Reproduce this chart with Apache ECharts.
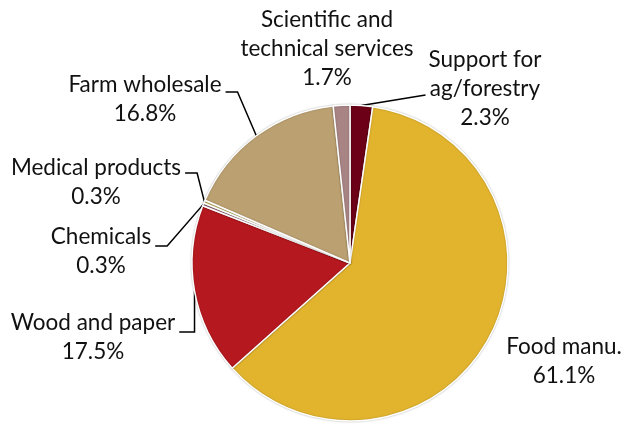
<!DOCTYPE html>
<html>
<head>
<meta charset="utf-8">
<script src="https://cdn.jsdelivr.net/npm/echarts@6/dist/echarts.min.js"></script>
<style>
  html, body { margin: 0; padding: 0; background: #fff; }
  #chart { width: 624px; height: 425px; }
</style>
</head>
<body>
<div id="chart"></div>
<script>
// Shares of the sector, clockwise from 12 o'clock
const sectors = ['Support for\nag/forestry', 'Food manu.', 'Wood and paper', 'Chemicals',
                 'Medical products', 'Farm wholesale', 'Scientific and\ntechnical services'];
const shares = [2.3, 61.1, 17.5, 0.3, 0.3, 16.8, 1.7];
const palette = ['#6B0016', '#E2B42E', '#B5191F', '#9C6C7E', '#CFC766', '#BBA071', '#A88484'];

// Where each label sits: centre x, top y of the text block, and how its leader line runs
const labelPlacement = [
  { cx: 485, top: 45.5, line: 'right' },
  { cx: 564, top: 332.5, line: null },
  { cx: 93,  top: 308.5, line: 'left', elbowY: 332, vertical: true },
  { cx: 101, top: 222.5, line: 'left', elbowY: 246 },
  { cx: 96,  top: 153.5, line: 'left', elbowY: 173 },
  { cx: 145, top: 70.5,  line: 'left', elbowY: 92 },
  { cx: 327, top: 5.5,   line: null }
];

const chart = echarts.init(document.getElementById('chart'), null, { renderer: 'canvas' });

chart.setOption({
  animation: false,
  backgroundColor: '#ffffff',
  series: [{
    type: 'pie',
    center: [350, 263],
    radius: 158,
    startAngle: 90,
    clockwise: true,
    avoidLabelOverlap: false,
    data: sectors.map((name, i) => ({ name: name, value: shares[i], itemStyle: { color: palette[i] } })),
    itemStyle: {
      borderColor: '#ffffff',
      borderWidth: 1.5,
      shadowColor: 'rgba(0,0,0,0.25)',
      shadowBlur: 2
    },
    label: {
      show: true,
      position: 'outside',
      formatter: p => p.name + '\n' + p.value.toFixed(1) + '%',
      fontFamily: 'Lato',
      fontSize: 22.5,
      lineHeight: 29,
      color: '#111111',
      align: 'center'
    },
    labelLine: {
      show: true,
      length: 10,
      length2: 10,
      lineStyle: { color: '#000000', width: 1.5 }
    },
    labelLayout: function (params) {
      const pl = labelPlacement[params.dataIndex];
      const w = params.labelRect.width;
      const out = { x: pl.cx, y: pl.top, align: 'center', verticalAlign: 'top' };
      const anchor = params.labelLinePoints ? params.labelLinePoints[0] : null;
      if (!anchor || !pl.line) {
        out.labelLinePoints = anchor ? [anchor, anchor, anchor] : undefined;
        return out;
      }
      if (pl.line === 'left') {
        const endX = pl.cx + w / 2 + 4;
        const elbowX = pl.vertical ? anchor[0] : endX + 12;
        out.labelLinePoints = [anchor, [elbowX, pl.elbowY], [endX, pl.elbowY]];
      } else {
        const endX = pl.cx - w / 2 - 3;
        const endY = pl.top + 49.5;
        out.labelLinePoints = [anchor, [endX, endY], [endX, endY]];
      }
      return out;
    }
  }]
});
</script>
</body>
</html>
